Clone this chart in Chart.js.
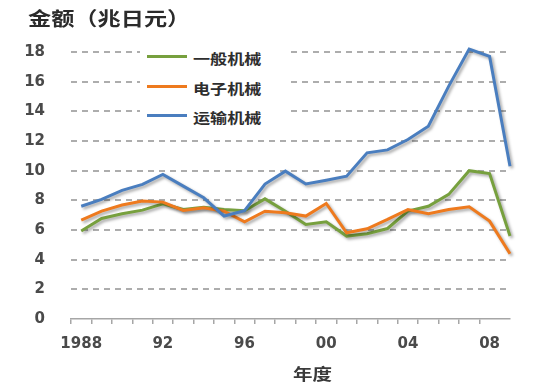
<!DOCTYPE html>
<html>
<head>
<meta charset="utf-8">
<script src="https://cdn.jsdelivr.net/npm/chart.js@4.4.0/dist/chart.umd.min.js"></script>
<style>
    body { margin: 0; background: #fff; }
    #wrap { position: relative; width: 536px; height: 389px; }
    .cjk { font-family: "Noto Sans CJK SC", sans-serif; font-weight: bold; color: #333; position: absolute; white-space: nowrap; transform-origin: left center; transform: scaleX(1.22); }
</style>
</head>
<body>
<div id="wrap">
    <canvas id="lineChart" width="536" height="389"></canvas>
    <div class="cjk" style="left: 28px; top: 8px; font-size: 19px; line-height: 20px; color: #2b2b2b;">金额（兆日元）</div>
    <div class="cjk" style="left: 293px; top: 364px; font-size: 16px; line-height: 18px; color: #3a3a3a;">年度</div>
    <div id="chartLegend" style="position: absolute; left: 140px; top: 44px; width: 150px; height: 84px; background: #fff;"></div>
</div>
<script>
// years on the x axis, and the labels shown under them
var years = [1988, 1989, 1990, 1991, 1992, 1993, 1994, 1995, 1996, 1997, 1998,
             1999, 2000, 2001, 2002, 2003, 2004, 2005, 2006, 2007, 2008, 2009];
var yearLabels = ['1988', '', '', '', '92', '', '', '', '96', '', '',
                  '', '00', '', '', '', '04', '', '', '', '08', ''];

var seriesNames = ['一般机械', '电子机械', '运输机械'];

// 金额 (兆日元) per year
var generalMachinery = [5.93, 6.78, 7.09, 7.34, 7.77, 7.38, 7.54, 7.38, 7.3, 8.1, 7.27,
                        6.37, 6.55, 5.59, 5.75, 6.1, 7.27, 7.6, 8.4, 10.0, 9.8, 5.6];
var electricMachinery = [6.67, 7.27, 7.68, 7.95, 7.88, 7.32, 7.5, 7.27, 6.55, 7.27, 7.16,
                         6.94, 7.79, 5.81, 6.08, 6.71, 7.38, 7.09, 7.38, 7.56, 6.6, 4.4];
var transportMachinery = [7.6, 8.06, 8.67, 9.07, 9.74, 8.96, 8.17, 6.94, 7.3, 9.1, 9.97,
                          9.1, 9.36, 9.63, 11.2, 11.4, 12.1, 13.0, 15.7, 18.2, 17.7, 10.3];

var yTicks = [0, 2, 4, 6, 8, 10, 12, 14, 16, 18];

var lineColors = ['#77A03E', '#EE7A1E', '#4A7EBF'];

function toPoints(values) {
    return values.map((v, i) => ({ x: years[i], y: v }));
}

// soft grey drop shadow under each line, like the original
const shadowPlugin = {
    id: 'lineShadow',
    beforeDatasetDraw(chart) {
        const ctx = chart.ctx;
        ctx.save();
        ctx.shadowColor = 'rgba(0, 0, 0, 0.35)';
        ctx.shadowBlur = 3;
        ctx.shadowOffsetX = 2;
        ctx.shadowOffsetY = 2;
    },
    afterDatasetDraw(chart) {
        chart.ctx.restore();
    }
};

const allSeries = [generalMachinery, electricMachinery, transportMachinery];
const drawOrder = [2, 1, 0];

const ctx = document.getElementById('lineChart').getContext('2d');
window.lineChart = new Chart(ctx, {
    type: 'line',
    data: {
        datasets: allSeries.map((values, index) => ({
            label: seriesNames[index],
            data: toPoints(values),
            borderColor: lineColors[index],
            backgroundColor: lineColors[index],
            borderWidth: 3,
            pointRadius: 0,
            tension: 0,
            clip: false,
            order: drawOrder[index]
        }))
    },
    options: {
        responsive: false,
        animation: false,
        layout: { padding: { top: 52, right: 26, left: 0, bottom: 0 } },
        plugins: {
            legend: { display: false },
            tooltip: { enabled: false }
        },
        scales: {
            x: {
                type: 'linear',
                min: years[0] - 0.5,
                max: years[years.length - 1],
                afterBuildTicks: scale => {
                    // tick marks sit between the years
                    scale.ticks = years.slice(0, -1).map(y => ({ value: y - 0.5 }));
                },
                afterFit: scale => { scale.height = 70; },
                grid: {
                    drawOnChartArea: false,
                    drawTicks: true,
                    tickLength: 5,
                    color: '#A6A6A6',
                    lineWidth: 1.5
                },
                border: { display: true, color: '#A6A6A6', width: 1.5 },
                ticks: {
                    autoSkip: false,
                    maxRotation: 0,
                    labelOffset: 10.2,
                    padding: 11,
                    color: '#4a4a4a',
                    font: { family: 'DejaVu Sans', size: 15, weight: 'bold' },
                    callback: (value, index) => yearLabels[index]
                }
            },
            y: {
                min: 0,
                max: 18,
                afterBuildTicks: scale => {
                    scale.ticks = yTicks.map(v => ({ value: v }));
                },
                afterFit: scale => { scale.width = 71; },
                grid: {
                    drawTicks: false,
                    color: ctx => ctx.tick.value === 0 ? 'rgba(0,0,0,0)' : '#ADADAD',
                    lineWidth: 2
                },
                border: { display: false, dash: [6, 5] },
                ticks: {
                    padding: 26,
                    color: '#4a4a4a',
                    font: { family: 'DejaVu Sans', size: 15, weight: 'bold' }
                }
            }
        }
    },
    plugins: [shadowPlugin]
});

// legend drawn as html over the plot, white box hides the grid behind it
const legendTops = [49, 79, 108];
const legendHtml = seriesNames.map((label, index) => {
    return `
        <div style="position: absolute; left: 7px; top: ${legendTops[index] - 44 + 6}px; width: 40px; height: 3px; background-color: ${lineColors[index]};"></div>
        <div class="cjk" style="left: 53px; top: ${legendTops[index] - 44}px; font-size: 14px; line-height: 18px; color: #2e2e2e;">${label}</div>
    `;
}).join('');
document.getElementById('chartLegend').innerHTML = legendHtml;
</script>
</body>
</html>
